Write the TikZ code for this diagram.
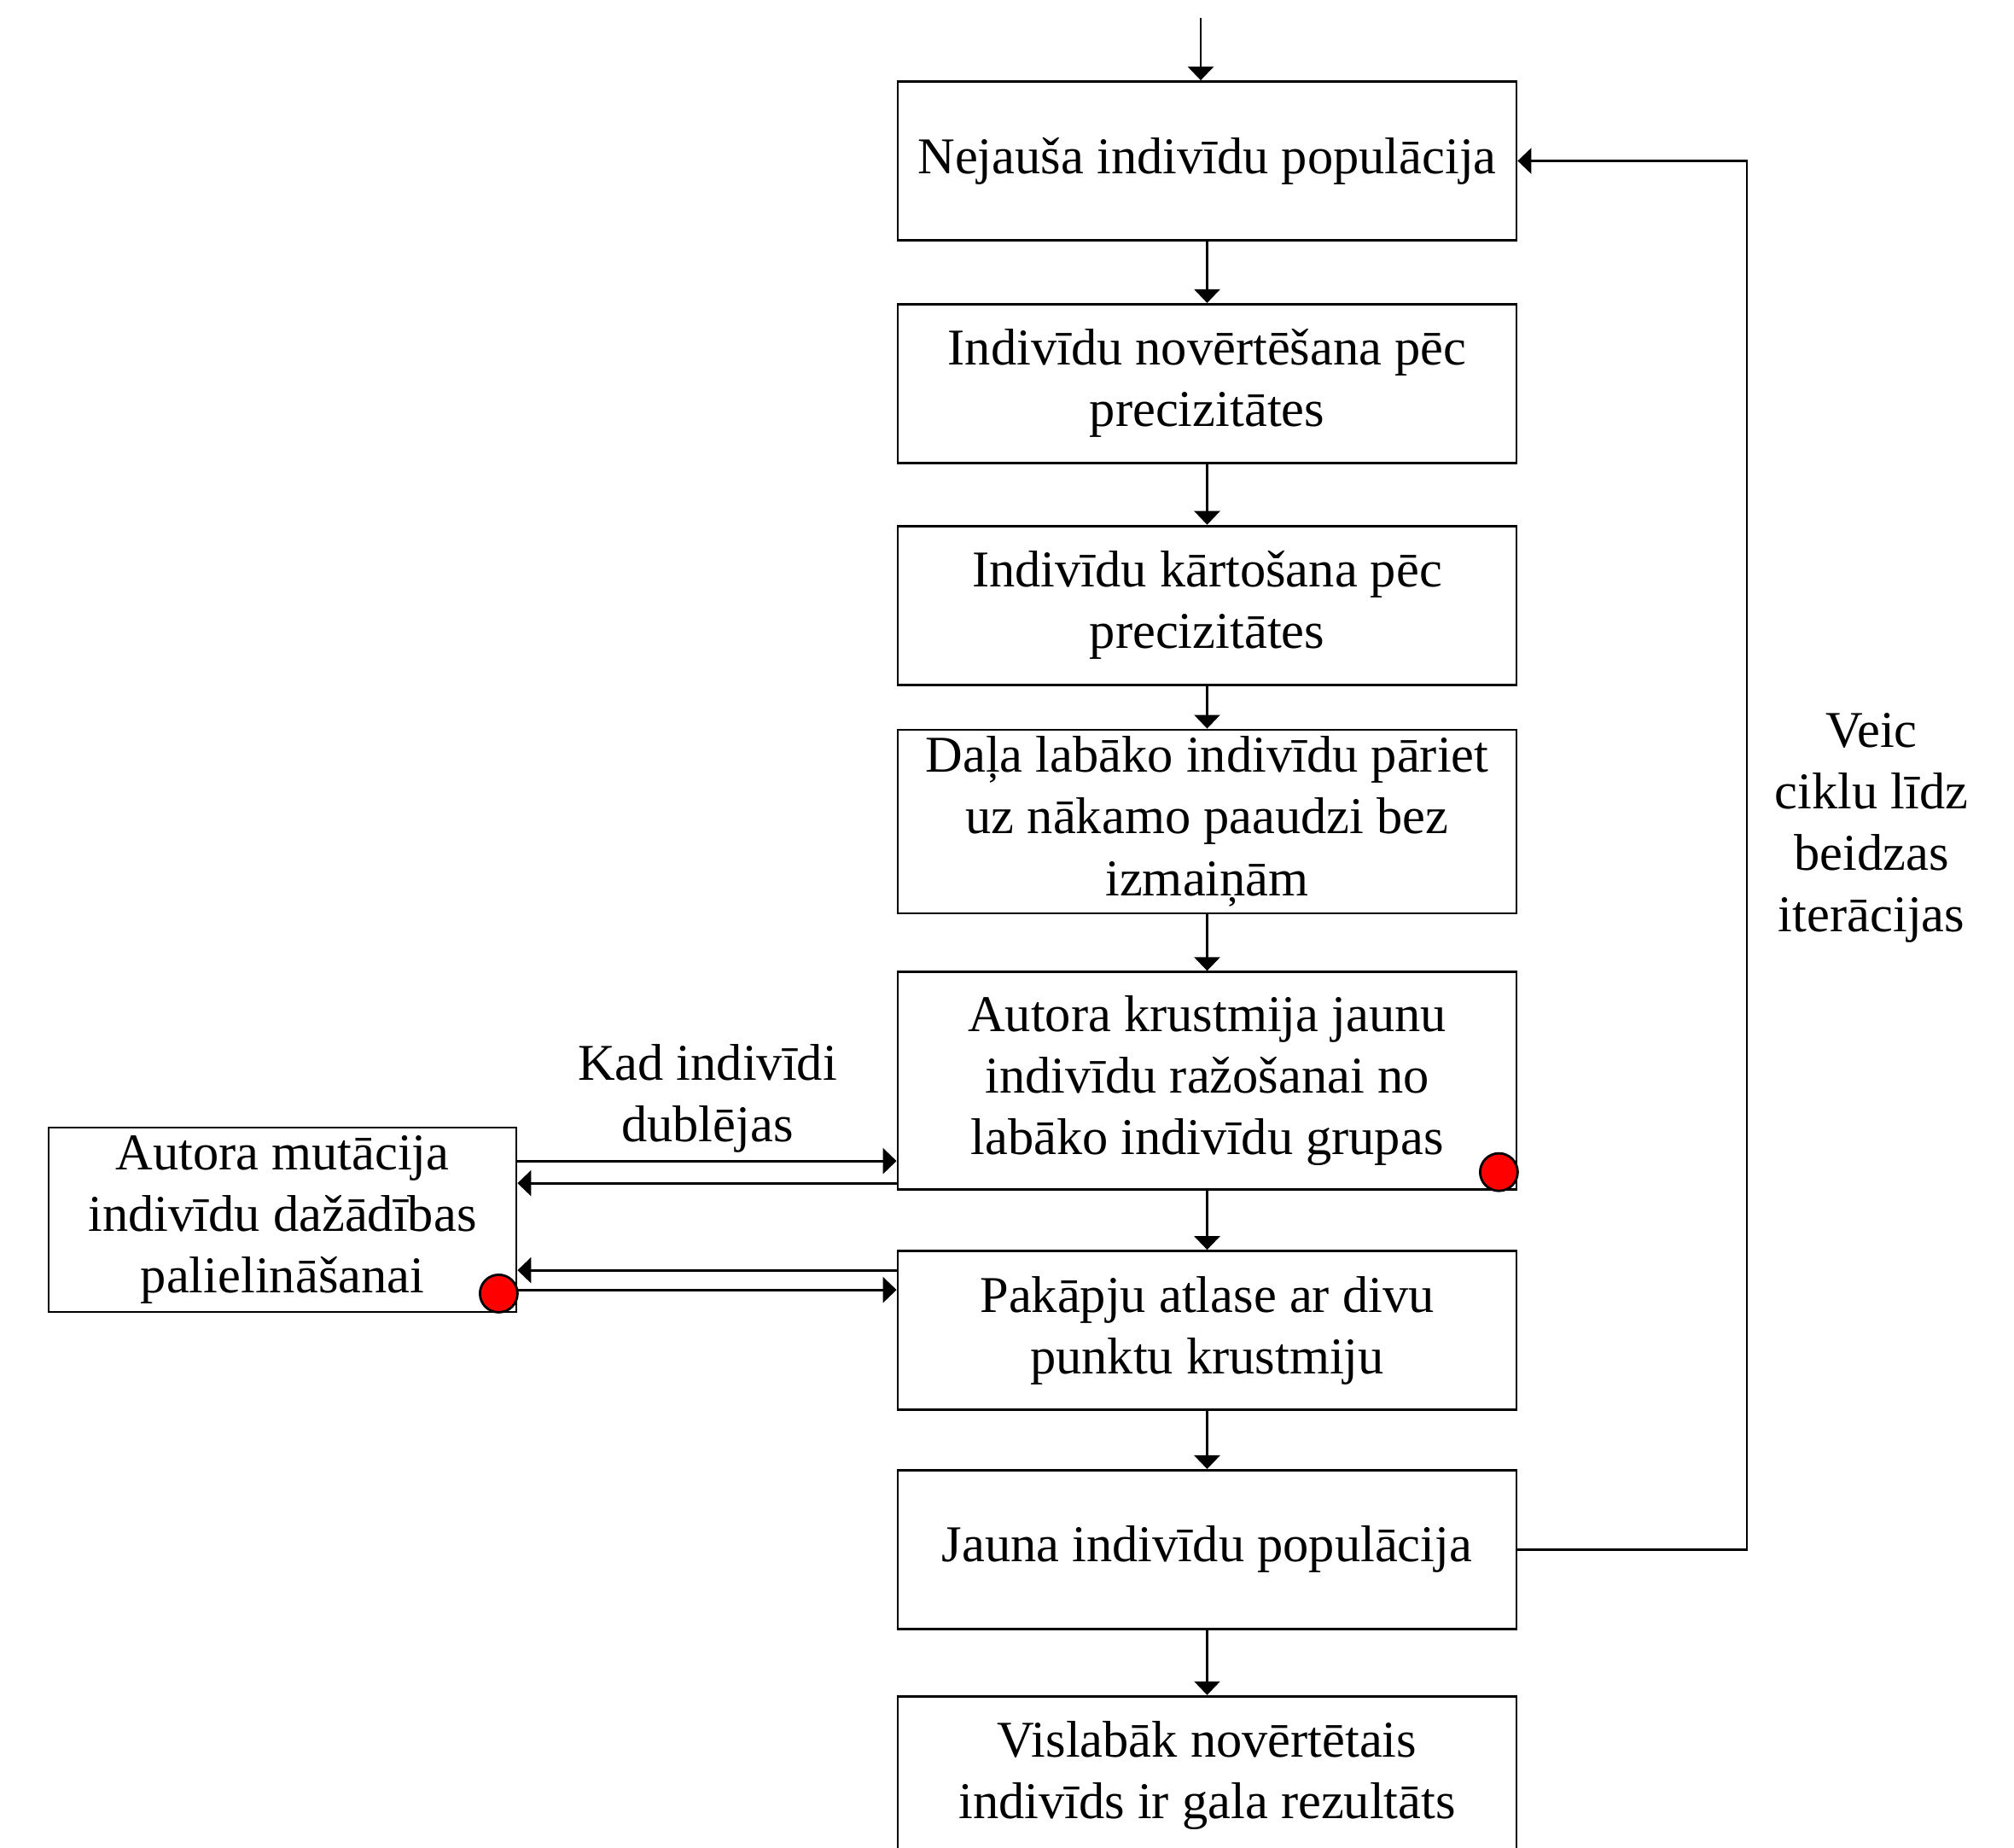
\documentclass[tikz,border=0pt]{standalone}
\usepackage{fontspec}
\setmainfont{Liberation Serif}
\usetikzlibrary{positioning, arrows.meta, calc}

\tikzset{
  box/.style={draw, line width=0.8pt, minimum width=7.25cm, minimum height=1.86cm,
    align=center, font=\fontsize{17.2}{20.5}\selectfont, inner sep=2pt},
  arr/.style={line width=0.8pt, -{Triangle[length=0.16cm, width=0.3cm]}},
  lbl/.style={align=center, font=\fontsize{17.2}{20.5}\selectfont},
  dot/.style={draw, line width=0.8pt, fill=red, circle, minimum size=0.44cm, inner sep=0pt}
}

\begin{document}
\begin{tikzpicture}[node distance=0.72cm]
        \useasboundingbox (0,0) rectangle (23.6,-21.65);

        \node[box]                         (init)   at (14.145,-1.885) {Nejauša indivīdu populācija};
        \node[box]                         (eval)   [below=of init]    {Indivīdu novērtēšana pēc\\precizitātes};
        \node[box]                         (sort)   [below=0.71cm of eval] {Indivīdu kārtošana pēc\\precizitātes};
        \node[box, minimum height=2.15cm]  (elite)  [below=0.50cm of sort] {Daļa labāko indivīdu pāriet\\uz nākamo paaudzi bez\\izmaiņām};
        \node[box, minimum height=2.55cm]  (cross)  [below=0.66cm of elite] {Autora krustmija jaunu\\indivīdu ražošanai no\\labāko indivīdu grupas};
        \node[box]                         (sel)    [below=0.69cm of cross] {Pakāpju atlase ar divu\\punktu krustmiju};
        \node[box]                         (newpop) [below=0.68cm of sel] {Jauna indivīdu populācija};
        \node[box]                         (best)   [below=0.76cm of newpop] {Vislabāk novērtētais\\indivīds ir gala rezultāts};

        \node[box, minimum width=5.48cm, minimum height=2.16cm] (mut) at (3.31,-14.29)
          {Autora mutācija\\indivīdu dažādības\\palielināšanai};

        \node[lbl] (dup)  at (8.29,-12.87) {Kad indivīdi\\dublējas};
        \node[lbl] (loop) at (21.93,-9.70) {Veic\\ciklu līdz\\beidzas\\iterācijas};

        % red markers
        \node[dot] (d1) at ($(cross.south east)+(-0.22,0.22)$) {};
        \node[dot] (d2) at ($(mut.south east)+(-0.22,0.23)$) {};

        % main flow
        \coordinate (start) at (14.07,-0.21);
        \draw[arr] (start) -- (start |- init.north);
        \draw[arr] (init)   -- (eval);
        \draw[arr] (eval)   -- (sort);
        \draw[arr] (sort)   -- (elite);
        \draw[arr] (elite)  -- (cross);
        \draw[arr] (cross)  -- (sel);
        \draw[arr] (sel)    -- (newpop);
        \draw[arr] (newpop) -- (best);

        % loop back
        \coordinate (back) at (20.47,0);
        \draw[arr] (newpop.east) -| (back |- newpop.east) |- (init.east);

        % mutation links
        \coordinate (m1) at ([yshift=0.35cm]cross.south west);
        \coordinate (m2) at ([yshift=0.09cm]cross.south west);
        \coordinate (m3) at ([yshift=-0.24cm]sel.north west);
        \coordinate (m4) at ([yshift=-0.47cm]sel.north west);
        \draw[arr] (m1 -| mut.east) -- (m1);
        \draw[arr] (m2) -- (m2 -| mut.east);
        \draw[arr] (m3) -- (m3 -| mut.east);
        \draw[arr] (m4 -| mut.east) -- (m4);
      \end{tikzpicture}
\end{document}
